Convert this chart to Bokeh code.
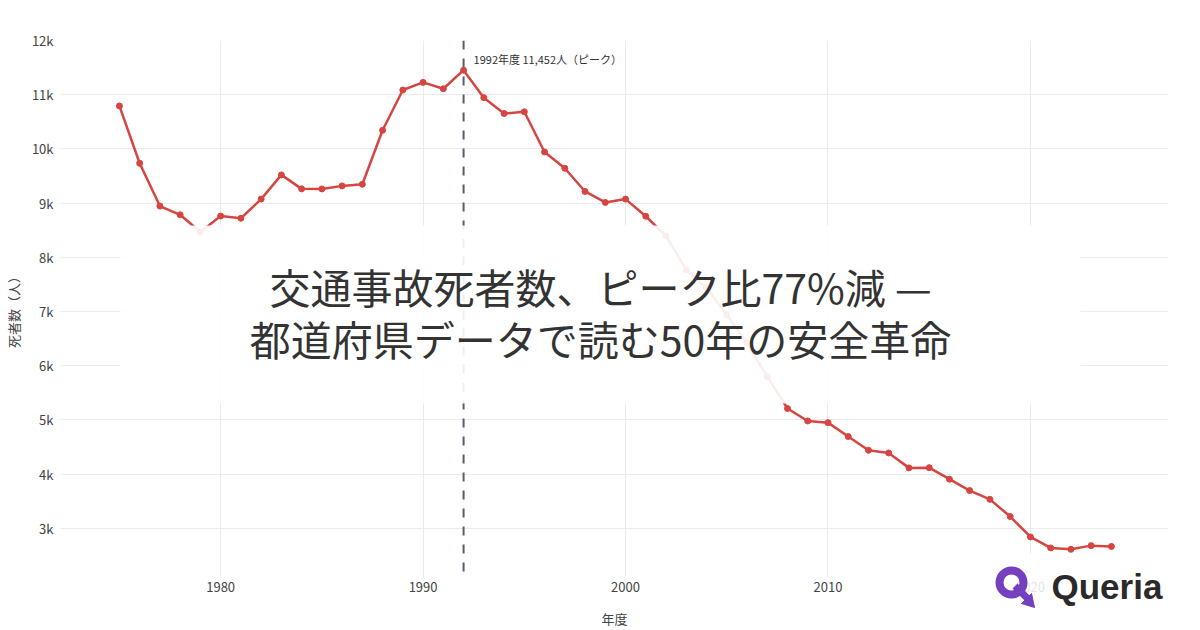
from bokeh.plotting import figure
from bokeh.models import Range1d, FixedTicker, Span, Label, BoxAnnotation, ColumnDataSource, GridBox
from bokeh.embed import file_html
from bokeh.resources import INLINE

# ---- data ----
years = list(range(1975, 2025))
deaths = [10792, 9734, 8945, 8783, 8466, 8760, 8719, 9073, 9520, 9262,
          9261, 9317, 9347, 10344, 11086, 11227, 11109, 11452, 10945, 10653,
          10684, 9943, 9642, 9214, 9012, 9073, 8757, 8396, 7768, 7436,
          6937, 6415, 5796, 5209, 4979, 4948, 4691, 4438, 4388, 4113,
          4117, 3904, 3694, 3532, 3215, 2839, 2636, 2610, 2678, 2663]
x_ticks = [1980, 1990, 2000, 2010, 2020]
y_ticks = [3000, 4000, 5000, 6000, 7000, 8000, 9000, 10000, 11000, 12000]
y_tick_labels = ["3k", "4k", "5k", "6k", "7k", "8k", "9k", "10k", "11k", "12k"]
peak_year = 1992
peak_value = 11452
peak_text = "1992年度 11,452人（ピーク）"
title_lines = ["交通事故死者数、ピーク比77%減 —", "都道府県データで読む50年の安全革命"]
x_title = "年度"
y_title = "死者数（人）"
brand = "Queria"

RED = "#d64541"
PURPLE = "#7440c0"
FONT = "Noto Sans CJK JP"
W, H = 1200, 630

# ---- main chart ----
p = figure(width=W, height=H, output_backend="svg", toolbar_location=None,
           x_range=Range1d(1972.09, 2026.82), y_range=Range1d(2090, 12000),
           min_border_left=60, min_border_right=32, min_border_top=40, min_border_bottom=50)
p.frame_align = False
p.outline_line_color = None
p.background_fill_color = "white"
p.border_fill_color = "white"

for ax in (p.xaxis[0], p.yaxis[0]):
    ax.axis_line_color = None
    ax.major_tick_line_color = None
    ax.minor_tick_line_color = None
    ax.major_label_text_font = FONT
    ax.major_label_text_font_size = "13px"
    ax.major_label_text_color = "#444444"
    ax.axis_label_text_font = FONT
    ax.axis_label_text_font_size = "13px"
    ax.axis_label_text_font_style = "normal"
    ax.axis_label_text_color = "#444444"

p.xaxis.ticker = FixedTicker(ticks=x_ticks)
p.yaxis.ticker = FixedTicker(ticks=y_ticks)
p.yaxis.major_label_overrides = {t: l for t, l in zip(y_ticks, y_tick_labels)}
p.xaxis.axis_label = x_title
p.yaxis.axis_label = y_title
p.xaxis.major_label_standoff = -2
p.xaxis.axis_label_standoff = 14
p.yaxis.major_label_standoff = 1
p.yaxis.axis_label_standoff = 6
p.xgrid.ticker = FixedTicker(ticks=x_ticks)
p.ygrid.ticker = FixedTicker(ticks=y_ticks)
p.grid.grid_line_color = "#ebebeb"
p.grid.grid_line_width = 1

p.add_layout(Span(location=peak_year, dimension="height", line_color="#56606e",
                  line_width=2, line_dash="9 9", level="underlay"))

src = ColumnDataSource(dict(x=years, y=deaths))
p.line("x", "y", source=src, line_color=RED, line_width=2.5)
p.scatter("x", "y", source=src, size=6, fill_color=RED, line_color=RED)

p.add_layout(Label(x=peak_year, y=peak_value, x_offset=10, y_offset=11, text=peak_text,
                   text_font=FONT, text_font_size="11px", text_color="#333333",
                   text_baseline="middle"))

# ---- overlay (title banner + logo), pixel coordinates ----
ov = figure(width=W, height=H, output_backend="svg", toolbar_location=None,
            x_range=Range1d(0, W), y_range=Range1d(H, 0),
            x_axis_type=None, y_axis_type=None,
            min_border_left=0, min_border_right=0, min_border_top=0, min_border_bottom=0)
ov.frame_align = False
ov.grid.visible = False
ov.outline_line_color = None
ov.background_fill_alpha = 0
ov.border_fill_alpha = 0

ov.add_layout(BoxAnnotation(left=120, right=1080, top=225, bottom=403, level="underlay",
                            fill_color="white", fill_alpha=0.9, line_color=None))
for i, t in enumerate(title_lines):
    ov.add_layout(Label(x=600, y=285 + 52 * i, text=t,
                        text_font=FONT, text_font_size="41px", text_color="#333333",
                        text_align="center", text_baseline="middle"))

ov.add_layout(BoxAnnotation(left=990, right=1170, top=553, bottom=612, level="underlay",
                            fill_color="white", fill_alpha=0.85, line_color=None))
ov.annulus(x=[1011], y=[582], inner_radius=8, outer_radius=16,
           fill_color=PURPLE, line_color=None)
ov.patch([1012, 1017, 1029, 1024], [588, 583, 595, 600], fill_color=PURPLE, line_color=None)
ov.patch([1034, 1021, 1031], [607, 603, 593], fill_color=PURPLE, line_color=PURPLE)
ov.add_layout(Label(x=1051, y=586, text=brand,
                    text_font="Liberation Sans", text_font_style="bold", text_font_size="35px",
                    text_color="#2a2a2a", text_baseline="middle"))

layout = GridBox(children=[(p, 0, 0), (ov, 0, 0)])
open("out.html", "w").write(file_html(layout, INLINE))
